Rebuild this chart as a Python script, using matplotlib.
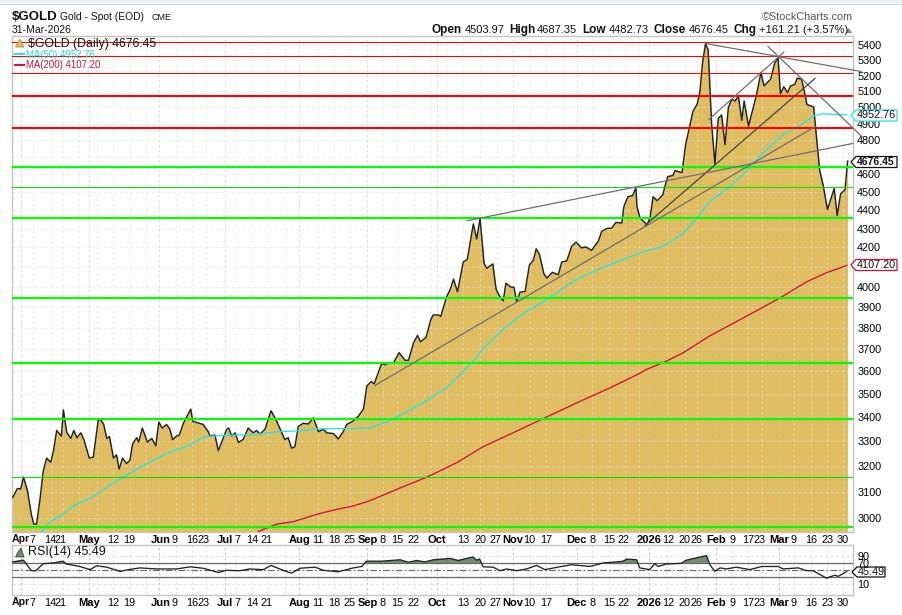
"""$GOLD daily area chart with moving averages, drawn levels and RSI panel."""
import matplotlib
matplotlib.use("Agg")
import matplotlib.pyplot as plt
from matplotlib.lines import Line2D
from matplotlib.patches import Polygon, Rectangle
from matplotlib.ticker import FixedLocator, NullLocator
import numpy as np

plt.rcParams["font.family"] = ["Liberation Sans", "DejaVu Sans"]

W, H = 902, 615

# session number (0 = 31 Mar 2025) and close
close_sessions = [
    0, 1.4, 2.4, 3.2, 4.4, 5.6, 6.3, 7.1, 8.1, 9.1, 10.1, 11.3, 12.1, 13.1, 14.5, 15.1, 16.1,
    17.3, 18.2, 19.1, 20.3, 21.2, 22.8, 24, 25.5, 26.3, 27.1, 28, 28.8, 30, 30.9, 31.7, 32.7,
    33.9, 34.9, 35.7, 36.9, 37.5, 38.6, 40.1, 41.4, 42.6, 43.5, 44.5, 45.8, 46.8, 47.6, 48.8,
    49.6, 50.8, 53, 53.6, 54.4, 56.7, 58.2, 58.7, 60.2, 61.2, 63.7, 64.3, 65.2, 66.2, 67.2,
    68.6, 70.1, 71.6, 72.6, 73.6, 75.1, 76.9, 78.6, 81, 82, 83, 84, 85, 86.5, 88, 89.5, 91,
    92.5, 93.5, 95.5, 96.9, 98.4, 99.4, 101.4, 102.9,
    104.4, 105.4, 106.7, 107.6, 109.8, 110.8, 112.3, 113.3, 115, 116.8, 117.8, 119.3, 120.5,
    121.4, 123, 124.5, 125.2, 126.7, 127.4, 129.2, 130.2, 131.2, 132.4, 134.1, 135.3, 137.1,
    138.1, 139.1, 140.3, 141.1, 142.9, 143.9, 145, 146, 146.8, 148.3, 149.2, 150, 151, 152.5,
    153.8, 155, 155.8, 156.8, 158.1, 159, 160.6, 162.4, 163.4, 164.9, 166.4, 167.7, 169.3,
    170.6, 172.3, 174.3, 175.3, 176.8, 178.3, 179.5, 181.3, 181.9, 183.1, 184.5, 185.5, 185.8,
    186.7, 188.8, 189.7, 190.6, 191.8, 193.5, 194.1, 195, 196.5, 197.1, 199.2, 200.3, 201.5,
    202.5, 203.7, 204.5, 205.3, 206.2, 207, 208, 209, 210, 211, 212, 213, 214, 215, 216, 217,
    217.7, 219, 220.4, 221.4, 222.7, 223.6, 225.6, 226.8, 227.8, 228.5, 229.5, 230.6, 231.5,
    232.8, 233.5, 234.8, 235.6, 236.4, 238.4, 239.2, 240.2, 241.2, 242.5, 244.5, 245.4, 246.4,
    247.7, 248.5,
]
close_values = [
    3077, 3112, 3110, 3157, 3104, 3010, 2977, 2977, 3067, 3180, 3232, 3215, 3258, 3345, 3322,
    3432, 3337, 3312, 3345, 3315, 3335, 3307, 3232, 3236, 3392, 3388, 3370, 3312, 3320, 3232,
    3245, 3188, 3232, 3210, 3223, 3290, 3315, 3297, 3355, 3297, 3312, 3282, 3380, 3355, 3370,
    3350, 3307, 3322, 3326, 3375, 3435, 3383, 3380, 3370, 3340, 3322, 3326, 3262, 3350,
    3355, 3322, 3335, 3295, 3308, 3355, 3335, 3345, 3330, 3350, 3428, 3383, 3307, 3315, 3272,
    3278, 3362, 3375, 3372, 3398, 3340, 3350, 3335, 3332, 3310, 3340, 3370, 3385, 3405,
    3435, 3535, 3555, 3545, 3635, 3630, 3640, 3637, 3685, 3650, 3650, 3730, 3765, 3735, 3755,
    3842, 3862, 3862, 3855, 3952, 3985, 4038, 3975, 4125, 4138, 4325, 4245, 4355, 4118, 4093,
    4115, 3985, 3952, 3930, 4018, 3998, 3997, 3927, 3973, 3976, 4110, 4135, 4193, 4163, 4065,
    4043, 4072, 4060, 4125, 4130, 4207, 4228, 4198, 4203, 4185, 4233, 4285, 4300, 4303, 4333,
    4330, 4419, 4474, 4480, 4524, 4419, 4359, 4320, 4359, 4474, 4452, 4485, 4530, 4588, 4593,
    4622, 4610, 4775, 4885, 4978, 5018, 5092, 5280, 5413, 5370, 4905, 4660, 4932, 4953, 4773,
    4998, 5050, 5040, 5070, 4920, 5040, 4885, 4998, 5080, 5222, 5135, 5178, 5283, 5317, 5085,
    5130, 5092, 5135, 5145, 5185, 5178, 5102, 5018, 5002, 4825, 4622, 4540, 4403, 4520, 4370,
    4490, 4512, 4676.45,
]

ma50_sessions = [
    8.6, 11.1, 15.1, 18.5, 24, 29, 32.9, 38.9, 45.8, 52.8, 57.2, 63.7, 71.6, 79, 84.5, 90.5,
    99.4, 106.3, 112.3, 117.3, 122.7, 129.6, 136.1, 140.6, 146.5, 153, 158.9, 166.8, 174.2,
    186.7, 193.5, 199.5, 203.7, 207.5, 212.6, 217.3, 223.3, 229.3, 234.3, 238.7, 241.2, 248.2,
]
ma50_values = [
    2950, 2985, 3015, 3048, 3080, 3125, 3157, 3202, 3250, 3285, 3320, 3325, 3328, 3340, 3343,
    3352, 3353, 3356, 3386, 3424, 3467, 3533, 3630, 3713, 3802, 3880, 3935, 4027, 4087,
    4172, 4206, 4273, 4357, 4448, 4518, 4598, 4725, 4833, 4888, 4950, 4960, 4952.76,
]

ma200_sessions = [
    73.1, 78.6, 83.5, 91.5, 96.4, 101.4, 106.3, 115.3, 123.6, 132.2, 140, 148.9, 157.8, 167.9,
    177.8, 185.8, 189.1, 194.1, 199.5, 207.5, 212.6, 221.5, 228.4, 236.4, 242.3, 248.3,
]
ma200_values = [
    2950, 2977, 2986, 3017, 3032, 3045, 3065, 3114, 3158, 3214, 3278, 3335, 3394, 3462,
    3527, 3585, 3612, 3643, 3684, 3763, 3806, 3883, 3945, 4025, 4071, 4107.2,
]

rsi_sessions = [
    0, 3.2, 4.6, 5.6, 6.9, 9.1, 12.1, 15, 16, 20, 23, 25, 28, 32, 34.4, 37.9, 42.8, 48.8, 52.8,
    56.7, 61.2, 63.7, 67.6, 70.6, 74.6, 76.9, 80.5, 83, 85.5, 90, 92.5, 96.9, 101.4, 103.9,
    105.3, 109.8, 115.3, 117.8, 120.2, 122.7, 125.2, 130.1, 132.6, 137, 138, 139, 140, 143,
    145, 147, 150, 152.9, 155.9, 158.4, 162.8, 166.3, 171.8, 175.7, 179.7, 181.7, 182.7, 185.7,
    186.6, 189.6, 191.1, 192.1, 194.6, 199, 200.5, 206.5, 207.5, 209, 210.5, 212.4, 215.4,
    219.4, 222.9, 227.8, 229.3, 233.8, 236.3, 238.2, 242.2, 244.7, 245.7, 248.2,
]
rsi_values = [
    73, 78, 60, 48, 48, 68, 70, 75, 67, 60, 51, 62, 58, 46, 51, 56, 53, 53, 59, 55, 43, 49, 48,
    53, 51, 63, 49, 41, 55, 58, 49, 45, 56, 60, 75, 75, 79, 72, 77, 73, 79, 83, 77, 87, 78, 81,
    59, 58, 48, 53, 48, 53, 63, 51, 59, 65, 60, 70, 73, 75, 81, 79, 56, 51, 68, 60, 67, 69, 78,
    91, 65, 46, 56, 53, 58, 51, 60, 60, 53, 56, 48, 48, 27, 35, 32, 45.49,
]

# horizontal levels drawn on the chart
red_thin = [5420, 5327, 5221]
red_thick = [5074, 4876]
green_thick = [4640, 4359, 3945, 3640, 3394, 2966]
green_thin = [4530, 3158]

# trend lines: (session, price, session, price)
trend_lines = [
    (206.3, 5413, 252.5, 5228),
    (207.2, 4925, 229.5, 5355),
    (224.8, 5393, 252.8, 4821),
    (107.8, 3537, 238.8, 4881),
    (188.2, 4317, 238.8, 5183),
    (135.2, 4342, 250.0, 4780),
]

price_ticks = list(range(3000, 5500, 100))
hidden_price_labels = [4100, 4700]  # sit under the value flags

tick_sessions = [
    6.0, 11.1, 14.4, 22.7, 29.9, 34.6, 44.1, 48.3, 53.4, 56.9, 63.2, 66.8, 71.2, 75.7, 85.5,
    90.9, 95.6, 100.4, 105.6, 110.2, 114.4, 119.4, 126.3, 134, 139.1, 143.8, 148.9, 153.6,
    158.7, 167.9, 172.7, 177.5, 181.9, 189.4, 195, 200, 203.6, 209.3, 214.1, 218.8, 222.4,
    228.1, 232.5, 237.6, 242.4, 247.1,
]
tick_labels = [
    "7", "14", "21", "May", "12", "19", "Jun", "9", "16", "23", "Jul", "7", "14", "21", "Aug",
    "11", "18", "25", "Sep", "8", "15", "22", "Oct", "13", "20", "27", "Nov", "10", "17", "Dec",
    "8", "15", "22", "2026", "12", "20", "26", "Feb", "9", "17", "23", "Mar", "9", "16", "23",
    "30",
]
month_grid = [2.5, 22.7, 43.5, 63.2, 85.2, 105.4, 126.3, 148.9, 167.9, 189.4, 209.3, 228.1]
week_grid = [
    6, 11.4, 15, 19.7, 25.1, 29.9, 34.9, 39.7, 48.6, 53.4, 57.5, 66.5, 71.2, 76, 81, 90.9, 95.6,
    100.4, 110.2, 114.4, 119.4, 124.5, 129.3, 134, 139.1, 144.1, 153.9, 158.7, 163.8, 172.4,
    177.5, 182.2, 186.4, 194.7, 200, 203.6, 214.1, 218.8, 223, 232.5, 237.6, 242.4, 247.1,
]

FILL = "#dfbd60"
FRAME = "#c4c4c4"
CYAN = "#22e6e6"
CRIMSON = "#d0103a"
TREND = "#6e6e6e"


def pixel_axes(left, top, right, bottom):
    return fig.add_axes([left / W, 1 - bottom / H, (right - left) / W, (bottom - top) / H])


def put(x, y, s, **kw):
    kw.setdefault("fontsize", 8)
    kw.setdefault("va", "center")
    kw.setdefault("color", "#111111")
    return fig.text(x / W, 1 - y / H, s, **kw)


def value_box(x0, x1, y, s, edge, tip, weight="normal", color="#111111", half=5.5, size=7.8):
    pts = [(tip, y), (x0, y - half), (x1, y - half), (x1, y + half), (x0, y + half)]
    pts = [(px / W, 1 - py / H) for px, py in pts]
    fig.add_artist(Polygon(pts, closed=True, transform=fig.transFigure, fc="white", ec=edge, lw=0.9))
    put(x0 + 1, y, s, fontweight=weight, color=color, fontsize=size)


def draw_grid(ax):
    for s in week_grid:
        ax.axvline(s, color="#e2e2e2", lw=0.7, ls=(0, (3, 2.5)), zorder=1.5)
    for s in month_grid:
        ax.axvline(s, color="#c8c8c8", lw=0.8, ls=(0, (2.5, 2)), zorder=1.5)


def date_ticks(ax):
    ax.set_xticks(tick_sessions)
    ax.set_xticklabels(tick_labels)
    ax.xaxis.set_minor_locator(NullLocator())
    ax.tick_params(axis="x", length=0, pad=2, labelsize=7.8)
    for lab in ax.get_xticklabels():
        if not lab.get_text().isdigit() or lab.get_text() == "2026":
            lab.set_fontweight("bold")
            lab.set_fontsize(8)
    ax.set_xlim(-0.2, 250.1)
    for side in ax.spines.values():
        side.set_color(FRAME)
        side.set_linewidth(1.0)


fig = plt.figure(figsize=(W / 100, H / 100), dpi=100, facecolor="white")
fig.add_artist(Rectangle((0, 1 - 3 / H), 1, 3 / H, transform=fig.transFigure, fc="#eef2f6", ec="none"))
fig.add_artist(Line2D([0, 1], [1 - 3.5 / H, 1 - 3.5 / H], transform=fig.transFigure, color="#ccd6e0", lw=0.8))

# price panel
ax = pixel_axes(12, 36, 853, 532)
ax.set_yscale("log")
ax.set_ylim(2948, 5464)
date_ticks(ax)

ax.fill_between(close_sessions, close_values, 2948, color=FILL, lw=0, zorder=1)
draw_grid(ax)
for p in price_ticks:
    ax.axhline(p, color="#e2e2e2", lw=0.7, ls=(0, (3, 2.5)), zorder=1.5)

# grid only shows faintly through the area
for art in ax.lines:
    art.set_alpha(0.55)

ax.plot(close_sessions, close_values, color="#222222", lw=1.05, zorder=3)
ax.plot(ma50_sessions, ma50_values, color=CYAN, lw=0.95, zorder=3)
ax.plot(ma200_sessions, ma200_values, color=CRIMSON, lw=0.95, zorder=3)

for p in red_thin:
    ax.axhline(p, color="#ff0000", lw=0.75, zorder=4)
for p in red_thick:
    ax.axhline(p, color="#ff0000", lw=1.5, zorder=4)
for p in green_thin:
    ax.axhline(p, color="#00e600", lw=0.75, zorder=4)
for p in green_thick:
    ax.axhline(p, color="#00ff00", lw=1.6, zorder=4)

for i, (s0, p0, s1, p1) in enumerate(trend_lines):
    ax.plot([s0, s1], [p0, p1], color="#444444" if i == 4 else TREND, lw=0.9, zorder=5, clip_on=False)

ax.yaxis.tick_right()
ax.yaxis.set_major_locator(FixedLocator(price_ticks))
ax.yaxis.set_minor_locator(NullLocator())
ax.set_yticklabels(["" if p in hidden_price_labels else str(p) for p in price_ticks])
ax.tick_params(axis="y", length=0, pad=3, labelsize=7.8)

# RSI panel
rsi_ax = pixel_axes(12, 545, 853, 595)
rsi_ax.set_ylim(-21, 121)
date_ticks(rsi_ax)
draw_grid(rsi_ax)
for p in [10, 90]:
    rsi_ax.axhline(p, color="#e2e2e2", lw=0.7, ls=(0, (3, 2.5)), zorder=1.5)

rsi_x = np.array(rsi_sessions)
rsi_y = np.array(rsi_values, dtype=float)
rsi_ax.fill_between(rsi_x, rsi_y, 70, where=rsi_y >= 70, interpolate=True, color="#6f8f70", lw=0, zorder=2)
rsi_ax.fill_between(rsi_x, rsi_y, 30, where=rsi_y <= 30, interpolate=True, color="#6f8f70", lw=0, zorder=2)
rsi_ax.axhline(70, color="#666666", lw=0.9, zorder=3)
rsi_ax.axhline(30, color="#666666", lw=0.9, zorder=3)
rsi_ax.axhline(50, color="#666666", lw=0.8, ls=(0, (6, 2, 1.5, 2)), zorder=3)
rsi_ax.plot(rsi_x, rsi_y, color="#222222", lw=0.95, zorder=4)
rsi_ax.yaxis.tick_right()
rsi_ax.set_yticks([90, 70, 10])
rsi_ax.set_yticklabels(["90", "70", "10"])
rsi_ax.tick_params(axis="y", length=0, pad=3, labelsize=7.8)

# first month label sits left of the first tick on both panels
put(12, 539, "Apr", fontweight="bold", fontsize=7.6)
put(12, 602, "Apr", fontweight="bold", fontsize=7.6)

# header
put(12, 17, "$GOLD", fontsize=9.5, fontweight="bold")
put(60, 17, "Gold - Spot (EOD)", fontsize=7.4)
put(151, 17.5, "CME", fontsize=6.5)
put(12, 30, "31-Mar-2026", fontsize=7.5)
for x, s, bold in [
    (432, "Open", True), (465, "4503.97", False), (509, "High", True), (537, "4687.35", False),
    (582, "Low", True), (609, "4482.73", False), (654, "Close", True), (689, "4676.45", False),
    (734, "Chg", True), (759, "+161.21 (+3.57%)", False),
]:
    put(x, 30, s, fontweight="bold" if bold else "normal", fontsize=8.5 if bold else 8)
put(853, 17, "\u00a9StockCharts.com", ha="right", fontsize=7.8, color="#555555")
fig.add_artist(Polygon([(845.5 / W, 1 - 33 / H), (852 / W, 1 - 33 / H), (848.8 / W, 1 - 28 / H)],
                       transform=fig.transFigure, fc="#888888", ec="none"))

# legend
fig.add_artist(Polygon([(15.5 / W, 1 - 47 / H), (24 / W, 1 - 47 / H), (19.8 / W, 1 - 39 / H)],
                       transform=fig.transFigure, fc=FILL, ec="#b08840", lw=0.5, zorder=6))
put(28, 43.5, "$GOLD (Daily) 4676.45", zorder=6, fontsize=8.8)
fig.add_artist(Line2D([15 / W, 24 / W], [1 - 54 / H, 1 - 54 / H], transform=fig.transFigure, color=CYAN, lw=1.5, zorder=6))
put(25.5, 54.5, "MA(50) 4952.76", color="#22d8d8", zorder=6, fontsize=6.9)
fig.add_artist(Line2D([15 / W, 24 / W], [1 - 65 / H, 1 - 65 / H], transform=fig.transFigure, color=CRIMSON, lw=1.5, zorder=6))
put(25.5, 65.5, "MA(200) 4107.20", color=CRIMSON, zorder=6, fontsize=6.9)
fig.add_artist(Polygon([(15.5 / W, 1 - 557 / H), (24 / W, 1 - 557 / H), (21 / W, 1 - 548 / H), (18 / W, 1 - 552 / H)],
                       transform=fig.transFigure, fc="#6f8f70", ec="#333333", lw=0.5, zorder=6))
put(28, 552.5, "RSI(14) 45.49", zorder=6, fontsize=9)

# value flags on the right
value_box(856, 897, 115.5, "4952.76", "#22e6e6", 851)
value_box(856, 897, 162, "4676.45", "#111111", 851, weight="bold", size=7.5)
value_box(856, 897, 265, "4107.20", CRIMSON, 851)
value_box(857, 885, 572, "45.49", "#111111", 852, half=5)

fig.savefig("out.png", dpi=100)
